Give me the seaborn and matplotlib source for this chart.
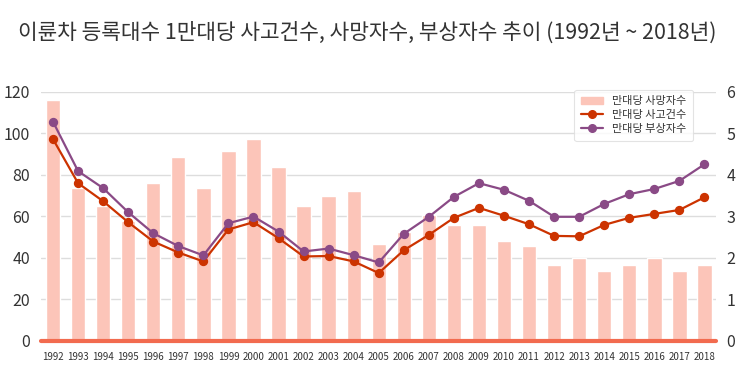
import pandas as pd
import matplotlib.pyplot as plt
import seaborn as sns
from matplotlib.patches import Patch
from matplotlib.lines import Line2D

# 데이터
years = [str(y) for y in range(1992, 2019)]
deaths = [5.80, 3.69, 3.25, 2.88, 3.80, 4.43, 3.69, 4.57, 4.86, 4.19,
          3.25, 3.49, 3.61, 2.32, 2.62, 3.02, 2.78, 2.78, 2.41, 2.29,
          1.83, 1.99, 1.68, 1.83, 1.99, 1.68, 1.83]
accidents = [97.1, 75.9, 67.2, 57.1, 47.8, 42.5, 38.2, 53.6, 57.1, 49.4,
             40.6, 40.8, 38.2, 32.6, 43.6, 51.0, 59.2, 64.0, 60.2, 56.1,
             50.5, 50.3, 55.8, 59.2, 61.1, 63.0, 69.1]
injuries = [105.5, 81.7, 73.5, 61.9, 51.8, 45.6, 41.1, 56.6, 59.8, 52.6,
            43.0, 44.4, 41.2, 37.7, 51.5, 59.7, 69.3, 75.9, 72.7, 67.4,
            59.7, 59.7, 65.9, 70.6, 73.1, 77.0, 85.0]

df = pd.DataFrame({"year": years, "deaths": deaths,
                   "accidents": accidents, "injuries": injuries})

bar_c = "#fcc5b9"
red_c = "#cc3300"
pur_c = "#8a4a86"

sns.set_style("white")
plt.rcParams["font.family"] = ["Noto Sans CJK KR", "DejaVu Sans"]

fig = plt.figure(figsize=(7.5, 3.85), dpi=100)
ax = fig.add_axes([0.055, 0.115, 0.899, 0.647])
ax2 = ax.twinx()

# 막대: 사망자수 (오른쪽 축)
sns.barplot(data=df, x="year", y="deaths", color=bar_c, width=0.57,
            saturation=1, ax=ax, zorder=2)

# 선: 사고건수, 부상자수 (왼쪽 축)
sns.pointplot(data=df, x="year", y="accidents", color=red_c, ax=ax2,
              markersize=5.5, linewidth=1.6)
sns.pointplot(data=df, x="year", y="injuries", color=pur_c, ax=ax2,
              markersize=5.5, linewidth=1.6)

ax.set_ylim(0, 6)
ax.set_yticks(range(0, 7))
ax2.set_ylim(0, 120)
ax2.set_yticks(range(0, 121, 20))
ax.set_xlim(-0.47, 26.44)
ax.yaxis.tick_right()
ax2.yaxis.tick_left()
ax.grid(axis="y", color="#dddddd", linewidth=1, zorder=0)
ax.set_axisbelow(True)

for a in (ax, ax2):
    a.set_xlabel("")
    a.set_ylabel("")
    for s in a.spines.values():
        s.set_visible(False)
    a.tick_params(axis="y", length=0, labelsize=11.5, colors="#333333", pad=8)
ax.tick_params(axis="x", length=0, labelsize=7, colors="#333333", pad=8)
ax2.tick_params(axis="x", length=0)
ax.axhline(0, color="#f26b4f", linewidth=3, zorder=3, clip_on=False)

handles = [Patch(color=bar_c),
           Line2D([], [], color=red_c, marker="o", markersize=5.5, linewidth=1.6),
           Line2D([], [], color=pur_c, marker="o", markersize=5.5, linewidth=1.6)]
labels = ["만대당 사망자수", "만대당 사고건수", "만대당 부상자수"]
leg = ax2.legend(handles, labels, loc="upper right", bbox_to_anchor=(0.975, 1.03),
                 fontsize=8, frameon=True, handlelength=2, labelspacing=0.35,
                 borderpad=0.6)
leg.get_frame().set_edgecolor("#dddddd")
leg.get_frame().set_linewidth(0.8)
for t in leg.get_texts():
    t.set_color("#333333")

fig.text(0.024, 0.915, "이륜차 등록대수 1만대당 사고건수, 사망자수, 부상자수 추이 (1992년 ~ 2018년)",
         fontsize=15.4, color="#333333", ha="left", va="center", fontweight="medium")

fig.savefig("out.png", dpi=100, facecolor="white")
